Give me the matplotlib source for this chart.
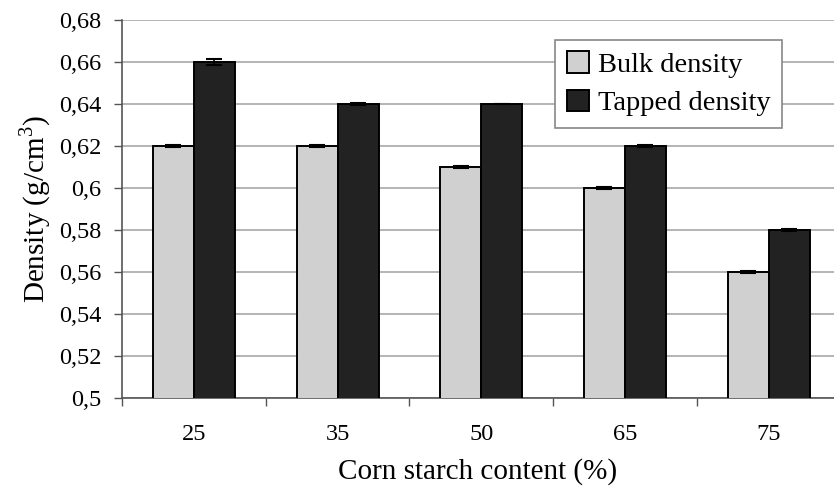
import matplotlib
matplotlib.use("Agg")
import matplotlib.pyplot as plt
import numpy as np
from matplotlib.ticker import FuncFormatter, MultipleLocator, FixedLocator

plt.rcParams['font.family'] = ['Liberation Serif', 'DejaVu Serif']
plt.rcParams['mathtext.fontset'] = 'custom'
plt.rcParams['mathtext.rm'] = 'Liberation Serif'

categories = ["25", "35", "50", "65", "75"]
bulk = [0.62, 0.62, 0.61, 0.60, 0.56]
tapped = [0.66, 0.64, 0.64, 0.62, 0.58]
bulk_err = [0.0005, 0.0005, 0.0005, 0.0005, 0.0005]
tapped_err = [0.0015, 0.0005, 0.0, 0.0005, 0.0005]

W, H = 834, 496
fig = plt.figure(figsize=(W / 100, H / 100), dpi=100)
ax = fig.add_axes([122 / W, 1 - 398 / H, 1 - 122 / W, (398 - 20) / H])

x = np.arange(len(categories))
bw = 0.285
ax.bar(x - bw / 2, bulk, bw, color="#d0d0d0", edgecolor="black",
       linewidth=1.4, label="Bulk density", zorder=3)
ax.bar(x + bw / 2, tapped, bw, color="#222222", edgecolor="black",
       linewidth=1.4, label="Tapped density", zorder=3)
ax.errorbar(x - bw / 2, bulk, yerr=bulk_err, fmt="none", ecolor="black",
            elinewidth=1.2, capsize=6, capthick=1.5, zorder=4)
ax.errorbar(x + bw / 2, tapped, yerr=tapped_err, fmt="none", ecolor="black",
            elinewidth=1.2, capsize=6, capthick=1.5, zorder=4)

ax.set_ylim(0.5, 0.68)
ax.set_xlim(-0.5, -0.5 + (834 - 122) / 143.7)
ax.yaxis.set_major_locator(MultipleLocator(0.02))
ax.yaxis.set_major_formatter(FuncFormatter(lambda v, p: f"{v:.2f}".rstrip("0").replace(".", ",")))
ax.grid(axis="y", color="#a8a8a8", linewidth=1.2, zorder=0)
ax.set_axisbelow(True)

ax.set_xticks(x)
ax.set_xticklabels(categories)
ax.xaxis.set_minor_locator(FixedLocator(np.arange(len(categories) + 1) - 0.5))
ax.tick_params(axis="x", which="major", length=0, pad=19, labelsize=17.5)
ax.tick_params(axis="x", which="minor", length=6, color="#555555", width=1)
ax.tick_params(axis="y", length=6, color="#555555", width=1, labelsize=17.5, pad=9)

for s in ["top", "right"]:
    ax.spines[s].set_visible(False)
ax.spines["left"].set_color("#555555")
ax.spines["bottom"].set_color("#555555")
ax.spines["left"].set_linewidth(1.2)
ax.spines["bottom"].set_linewidth(1.2)

ax.set_ylabel("Density (g/cm$^3$)", fontsize=21, labelpad=4)
ax.set_xlabel("Corn starch content (%)", fontsize=21, labelpad=9)

leg = ax.legend(loc="upper right", bbox_to_anchor=(782 / W, 1 - 40 / H),
                bbox_transform=fig.transFigure, fontsize=20.5, frameon=True,
                fancybox=False, framealpha=1, edgecolor="#888888",
                handlelength=0.8, handleheight=0.8, handletextpad=0.3,
                borderpad=0.4, labelspacing=0.4, borderaxespad=0)
leg.get_frame().set_linewidth(1.2)

fig.savefig("out.png", dpi=100)
